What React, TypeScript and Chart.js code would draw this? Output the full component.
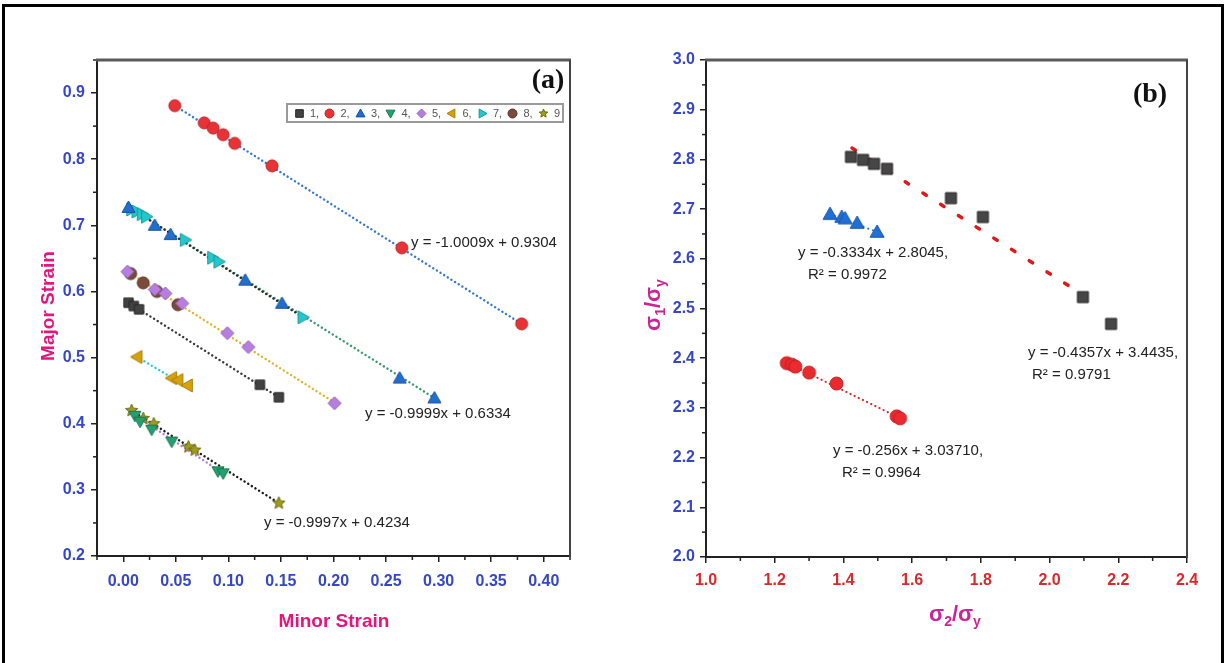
import React, { useEffect, useRef } from 'react';
import { Chart, registerables } from 'chart.js';

Chart.register(...registerables);

// ---------- Panel (a) data ----------
const A_X_TICKS = [0, 0.05, 0.1, 0.15, 0.2, 0.25, 0.3, 0.35, 0.4];
const A_X_TICK_LABELS = ['0.00', '0.05', '0.10', '0.15', '0.20', '0.25', '0.30', '0.35', '0.40'];
const A_Y_TICKS = [0.2, 0.3, 0.4, 0.5, 0.6, 0.7, 0.8, 0.9];
const A_Y_TICK_LABELS = ['0.2', '0.3', '0.4', '0.5', '0.6', '0.7', '0.8', '0.9'];
const A_SERIES_NAMES = ['1,', '2,', '3,', '4,', '5,', '6,', '7,', '8,', '9'];

const s1x = [0.005, 0.010, 0.015, 0.130, 0.148];
const s1y = [0.583, 0.578, 0.573, 0.459, 0.440];
const s2x = [0.049, 0.077, 0.0855, 0.095, 0.106, 0.1415, 0.265, 0.379];
const s2y = [0.881, 0.855, 0.847, 0.837, 0.824, 0.790, 0.666, 0.551];
const s3x = [0.005, 0.030, 0.045, 0.116, 0.151, 0.263, 0.296];
const s3y = [0.727, 0.700, 0.686, 0.617, 0.582, 0.469, 0.439];
const s4x = [0.011, 0.016, 0.027, 0.046, 0.090, 0.095];
const s4y = [0.412, 0.403, 0.391, 0.373, 0.328, 0.325];
const s5x = [0.004, 0.030, 0.040, 0.056, 0.099, 0.119, 0.201];
const s5y = [0.630, 0.603, 0.597, 0.582, 0.537, 0.516, 0.431];
const s6x = [0.013, 0.046, 0.052, 0.061];
const s6y = [0.501, 0.469, 0.466, 0.458];
const s7x = [0.008, 0.013, 0.018, 0.022, 0.059, 0.085, 0.091, 0.171];
const s7y = [0.724, 0.721, 0.717, 0.713, 0.678, 0.651, 0.645, 0.561];
const s8x = [0.007, 0.019, 0.032, 0.052];
const s8y = [0.627, 0.613, 0.600, 0.580];
const s9x = [0.008, 0.019, 0.029, 0.062, 0.068, 0.148];
const s9y = [0.420, 0.408, 0.400, 0.365, 0.360, 0.280];

// fit line end points
const fit2 = [[0.049, 0.881], [0.379, 0.551]];
const fit3 = [[0.005, 0.728], [0.296, 0.439]];
const fit7 = [[0.008, 0.725], [0.171, 0.561]];
const fit5 = [[0.004, 0.630], [0.201, 0.432]];
const fit1 = [[0.005, 0.583], [0.148, 0.440]];
const fit6 = [[0.013, 0.501], [0.061, 0.456]];
const fit9 = [[0.008, 0.420], [0.148, 0.280]];
const fit4 = [[0.011, 0.413], [0.095, 0.325]];

const A_EQUATIONS = ['y = -1.0009x + 0.9304', 'y = -0.9999x + 0.6334', 'y = -0.9997x + 0.4234'];

// ---------- Panel (b) data ----------
const B_X_TICKS = [1.0, 1.2, 1.4, 1.6, 1.8, 2.0, 2.2, 2.4];
const B_X_TICK_LABELS = ['1.0', '1.2', '1.4', '1.6', '1.8', '2.0', '2.2', '2.4'];
const B_Y_TICKS = [2.0, 2.1, 2.2, 2.3, 2.4, 2.5, 2.6, 2.7, 2.8, 2.9, 3.0];
const B_Y_TICK_LABELS = ['2.0', '2.1', '2.2', '2.3', '2.4', '2.5', '2.6', '2.7', '2.8', '2.9', '3.0'];

const bSqX = [1.422, 1.457, 1.489, 1.527, 1.713, 1.806, 2.097, 2.179];
const bSqY = [2.805, 2.799, 2.791, 2.781, 2.722, 2.684, 2.523, 2.469];
const bTriX = [1.361, 1.395, 1.405, 1.440, 1.498];
const bTriY = [2.690, 2.684, 2.681, 2.672, 2.654];
const bCirX = [1.235, 1.250, 1.260, 1.300, 1.380, 1.555, 1.565];
const bCirY = [2.390, 2.387, 2.383, 2.371, 2.349, 2.283, 2.279];

const bFitSq = [[1.425, 2.823], [2.071, 2.539]];
const bFitTri = [[1.361, 2.690], [1.498, 2.654]];
const bFitCir = [[1.240, 2.389], [1.560, 2.281]];

const B_EQ1 = ['y = -0.3334x + 2.8045,', 'R² = 0.9972'];
const B_EQ2 = ['y = -0.4357x + 3.4435,', 'R² = 0.9791'];
const B_EQ3 = ['y = -0.256x + 3.03710,', 'R² = 0.9964'];

// ---------- styling ----------
const BLUE_TICK = '#3546c8';
const RED_TICK = '#d82a2a';
const MAGENTA = '#e4167c';
const SIGMA_COL = '#cf2294';
const SANS = "'Liberation Sans', Arial, sans-serif";
const NARROW = "'Liberation Sans Narrow', 'Liberation Sans', Arial, sans-serif";

type Shape = 'square' | 'circle' | 'up' | 'down' | 'left' | 'right' | 'diamond' | 'star';

function makeMarker(shape: Shape, fill: string, stroke: string, size: number) {
  const pad = 2;
  const s = Math.ceil(size + pad * 2);
  const c = document.createElement('canvas');
  c.width = s;
  c.height = s;
  const g = c.getContext('2d')!;
  const r = size / 2;
  g.translate(s / 2, s / 2);
  g.fillStyle = fill;
  g.strokeStyle = stroke;
  g.lineWidth = 1;
  g.beginPath();
  switch (shape) {
    case 'square':
      g.rect(-r * 0.85, -r * 0.85, r * 1.7, r * 1.7);
      break;
    case 'circle':
      g.arc(0, 0, r, 0, Math.PI * 2);
      break;
    case 'up':
      g.moveTo(0, -r); g.lineTo(r, r * 0.75); g.lineTo(-r, r * 0.75);
      break;
    case 'down':
      g.moveTo(0, r); g.lineTo(r, -r * 0.75); g.lineTo(-r, -r * 0.75);
      break;
    case 'left':
      g.moveTo(-r, 0); g.lineTo(r * 0.75, -r); g.lineTo(r * 0.75, r);
      break;
    case 'right':
      g.moveTo(r, 0); g.lineTo(-r * 0.75, -r); g.lineTo(-r * 0.75, r);
      break;
    case 'diamond':
      g.moveTo(0, -r); g.lineTo(r, 0); g.lineTo(0, r); g.lineTo(-r, 0);
      break;
    case 'star': {
      for (let i = 0; i < 10; i++) {
        const rad = i % 2 === 0 ? r : r * 0.45;
        const a = -Math.PI / 2 + (i * Math.PI) / 5;
        const px = Math.cos(a) * rad;
        const py = Math.sin(a) * rad;
        if (i === 0) g.moveTo(px, py); else g.lineTo(px, py);
      }
      break;
    }
  }
  g.closePath();
  g.fill();
  g.stroke();
  return c;
}

const A_STYLES: { shape: Shape; fill: string; stroke: string; size: number }[] = [
  { shape: 'square', fill: '#424242', stroke: '#2a2a2a', size: 11 },
  { shape: 'circle', fill: '#ea3236', stroke: '#b02428', size: 12 },
  { shape: 'up', fill: '#1f6fd2', stroke: '#1a4f9a', size: 13 },
  { shape: 'down', fill: '#23a070', stroke: '#1a7a52', size: 12 },
  { shape: 'diamond', fill: '#b77ee0', stroke: '#9060b8', size: 13 },
  { shape: 'left', fill: '#d6a20c', stroke: '#a87e08', size: 13 },
  { shape: 'right', fill: '#22c8cc', stroke: '#189a9e', size: 13 },
  { shape: 'circle', fill: '#7c4a38', stroke: '#5a3428', size: 12 },
  { shape: 'star', fill: '#a09c1c', stroke: '#6e6a10', size: 13 },
];

function pts(xs: number[], ys: number[]) {
  return xs.map((x, i) => ({ x, y: ys[i] }));
}
function seg(p: number[][]) {
  return p.map(([x, y]) => ({ x, y }));
}

function dotted(data: any, color: string, order = 10) {
  return {
    type: 'line' as const,
    data,
    borderColor: color,
    borderWidth: 2.4,
    borderDash: [0.1, 4.2],
    borderCapStyle: 'round' as const,
    pointRadius: 0,
    showLine: true,
    fill: false,
    order,
  };
}

function drawSigma(ctx: CanvasRenderingContext2D, cx: number, cy: number, s1: string, s2: string, rotate: boolean) {
  const big = `bold 22px ${SANS}`;
  const small = `bold 14px ${SANS}`;
  const parts: [string, boolean][] = [['σ', false], [s1, true], ['/', false], ['σ', false], [s2, true]];
  ctx.save();
  const widths = parts.map(([t, sub]) => {
    ctx.font = sub ? small : big;
    return ctx.measureText(t).width;
  });
  const total = widths.reduce((a, b) => a + b, 0);
  ctx.translate(cx, cy);
  if (rotate) ctx.rotate(-Math.PI / 2);
  ctx.fillStyle = SIGMA_COL;
  ctx.textBaseline = 'alphabetic';
  ctx.textAlign = 'left';
  let x = -total / 2;
  parts.forEach(([t, sub], i) => {
    ctx.font = sub ? small : big;
    ctx.fillText(t, x, sub ? 11 : 6);
    x += widths[i];
  });
  ctx.restore();
}

function frameAndMinor(chart: any, xMinor: number[], yMinor: number[]) {
  const { ctx, chartArea: ca, scales } = chart;
  ctx.save();
  ctx.strokeStyle = '#222';
  ctx.lineWidth = 1.5;
  xMinor.forEach((v) => {
    const px = scales.x.getPixelForValue(v);
    ctx.beginPath();
    ctx.moveTo(px, ca.bottom);
    ctx.lineTo(px, ca.bottom + 4);
    ctx.stroke();
  });
  yMinor.forEach((v) => {
    const py = scales.y.getPixelForValue(v);
    ctx.beginPath();
    ctx.moveTo(ca.left, py);
    ctx.lineTo(ca.left - 4, py);
    ctx.stroke();
  });
  // top and right frame
  ctx.strokeStyle = '#5a5a5a';
  ctx.lineWidth = 3;
  ctx.beginPath();
  ctx.moveTo(ca.left - 1, ca.top);
  ctx.lineTo(ca.right + 1, ca.top);
  ctx.stroke();
  ctx.lineWidth = 2;
  ctx.strokeStyle = '#444';
  ctx.beginPath();
  ctx.moveTo(ca.right, ca.top);
  ctx.lineTo(ca.right, ca.bottom + 1);
  ctx.stroke();
  ctx.restore();
}

function baseScale(min: number, max: number, ticks: number[], labels: string[], color: string, font: any, pad: number, isX: boolean) {
  return {
    type: 'linear' as const,
    min,
    max,
    afterBuildTicks: (s: any) => {
      s.ticks = ticks.map((v) => ({ value: v }));
    },
    afterFit: (s: any) => {
      if (isX) s.height = 40; else s.width = 40;
    },
    ticks: {
      callback: (_v: any, i: number) => labels[i],
      color,
      font,
      padding: pad,
      autoSkip: false,
      maxRotation: 0,
    },
    grid: {
      display: true,
      drawOnChartArea: false,
      drawTicks: true,
      tickLength: 6,
      color: '#222',
      lineWidth: 1.5,
    },
    border: { display: true, color: '#222', width: 2 },
  };
}

export default function App() {
  const refA = useRef<HTMLCanvasElement>(null);
  const refB = useRef<HTMLCanvasElement>(null);

  useEffect(() => {
    const markers = A_STYLES.map((s) => makeMarker(s.shape, s.fill, s.stroke, s.size));
    const legendMarkers = A_STYLES.map((s) => makeMarker(s.shape, s.fill, s.stroke, 9));
    const seriesX = [s1x, s2x, s3x, s4x, s5x, s6x, s7x, s8x, s9x];
    const seriesY = [s1y, s2y, s3y, s4y, s5y, s6y, s7y, s8y, s9y];

    const pointSets = seriesX.map((xs, i) => ({
      type: 'scatter' as const,
      data: pts(xs, seriesY[i]),
      pointStyle: markers[i],
      pointRadius: 6,
      showLine: false,
      order: 1,
    }));

    const lineSetsA = [
      dotted(seg(fit4), '#b47ee0', 12),
      dotted(seg(fit9), '#1a1a1a', 11),
      dotted(seg(fit2), '#3a78cc'),
      dotted(seg(fit3), '#3a9a6e', 11),
      dotted(seg(fit7), '#2a2a2a', 10),
      dotted(seg(fit5), '#e2b42a'),
      dotted(seg(fit1), '#3a3a3a'),
      dotted(seg(fit6), '#2ccad8'),
    ];

    const tickFontA = { family: SANS, size: 16, weight: 'bold' as const };

    const decorA = {
      id: 'decorA',
      afterDraw(chart: any) {
        const { ctx } = chart;
        frameAndMinor(
          chart,
          [-0.025, 0.025, 0.075, 0.125, 0.175, 0.225, 0.275, 0.325, 0.375, 0.425],
          [0.25, 0.35, 0.45, 0.55, 0.65, 0.75, 0.85, 0.95]
        );
        ctx.save();
        // axis titles
        ctx.fillStyle = MAGENTA;
        ctx.font = `bold 19px ${SANS}`;
        ctx.textAlign = 'center';
        ctx.textBaseline = 'middle';
        ctx.fillText('Minor Strain', 334, 622);
        ctx.save();
        ctx.translate(49, 306);
        ctx.rotate(-Math.PI / 2);
        ctx.fillText('Major Strain', 0, 0);
        ctx.restore();
        // (a)
        ctx.fillStyle = '#111';
        ctx.font = "bold 28px 'Liberation Serif', 'DejaVu Serif', serif";
        ctx.fillText('(a)', 548, 81);
        // equations
        ctx.fillStyle = '#222';
        ctx.font = `15px ${NARROW}`;
        ctx.textAlign = 'left';
        ctx.fillText(A_EQUATIONS[0], 411, 243);
        ctx.fillText(A_EQUATIONS[1], 365, 414);
        ctx.fillText(A_EQUATIONS[2], 264, 523);
        // legend
        ctx.strokeStyle = '#9a9a9a';
        ctx.lineWidth = 2;
        ctx.strokeRect(287, 104, 276, 18);
        ctx.fillStyle = '#555';
        ctx.font = `11px ${SANS}`;
        A_SERIES_NAMES.forEach((name, i) => {
          const mx = 299 + i * 30.5;
          const m = legendMarkers[i];
          ctx.drawImage(m, Math.round(mx - m.width / 2), Math.round(113 - m.height / 2));
          ctx.fillText(name, mx + 11, 113.5);
        });
        ctx.restore();
      },
    };

    const chartA = new Chart(refA.current!, {
      type: 'scatter',
      data: { datasets: [...lineSetsA, ...pointSets] as any },
      options: {
        animation: false,
        responsive: false,
        events: [],
        layout: { padding: { left: 57, right: 42, top: 60, bottom: 67 } },
        plugins: { legend: { display: false }, tooltip: { enabled: false } },
        scales: {
          x: baseScale(-0.025, 0.425, A_X_TICKS, A_X_TICK_LABELS, BLUE_TICK, tickFontA, 10, true),
          y: baseScale(0.2, 0.95, A_Y_TICKS, A_Y_TICK_LABELS, BLUE_TICK, tickFontA, 6, false),
        } as any,
      },
      plugins: [decorA],
    });

    // ---------- panel (b) ----------
    const sqM = makeMarker('square', '#464646', '#2a2a2a', 13);
    const triM = makeMarker('up', '#1f6fd6', '#1a55a8', 14);
    const cirM = makeMarker('circle', '#ea2a2e', '#c01e22', 13);

    const tickFontB = { family: NARROW, size: 16, weight: 'bold' as const };

    const decorB = {
      id: 'decorB',
      afterDraw(chart: any) {
        const { ctx } = chart;
        frameAndMinor(
          chart,
          [1.1, 1.3, 1.5, 1.7, 1.9, 2.1, 2.3],
          [2.05, 2.15, 2.25, 2.35, 2.45, 2.55, 2.65, 2.75, 2.85, 2.95]
        );
        const o = 612;
        ctx.save();
        drawSigma(ctx, 955 - o, 615, '2', 'y', false);
        drawSigma(ctx, 654 - o, 305, '1', 'y', true);
        ctx.fillStyle = '#111';
        ctx.font = "bold 28px 'Liberation Serif', 'DejaVu Serif', serif";
        ctx.textAlign = 'center';
        ctx.textBaseline = 'middle';
        ctx.fillText('(b)', 1150 - o, 95);
        ctx.fillStyle = '#222';
        ctx.font = `15px ${NARROW}`;
        ctx.textAlign = 'left';
        ctx.fillText(B_EQ1[0], 798 - o, 253);
        ctx.fillText(B_EQ1[1], 808 - o, 275);
        ctx.fillText(B_EQ2[0], 1028 - o, 353);
        ctx.fillText(B_EQ2[1], 1032 - o, 375);
        ctx.fillText(B_EQ3[0], 833 - o, 451);
        ctx.fillText(B_EQ3[1], 842 - o, 473);
        ctx.restore();
      },
    };

    const chartB = new Chart(refB.current!, {
      type: 'scatter',
      data: {
        datasets: [
          {
            type: 'line',
            data: seg(bFitSq),
            borderColor: '#e01818',
            borderWidth: 3.5,
            borderDash: [4, 17],
            borderCapStyle: 'round',
            pointRadius: 0,
            fill: false,
            order: 10,
          },
          {
            type: 'line',
            data: seg(bFitCir),
            borderColor: '#e02a2a',
            borderWidth: 2.2,
            borderDash: [0.1, 4.5],
            borderCapStyle: 'round',
            pointRadius: 0,
            fill: false,
            order: 10,
          },
          {
            type: 'line',
            data: seg(bFitTri),
            borderColor: '#1f6fd6',
            borderWidth: 2,
            borderDash: [0.1, 5],
            borderCapStyle: 'round',
            pointRadius: 0,
            fill: false,
            order: 10,
          },
          { type: 'scatter', data: pts(bSqX, bSqY), pointStyle: sqM, pointRadius: 6, order: 1 },
          { type: 'scatter', data: pts(bTriX, bTriY), pointStyle: triM, pointRadius: 6, order: 1 },
          { type: 'scatter', data: pts(bCirX, bCirY), pointStyle: cirM, pointRadius: 6, order: 1 },
        ] as any,
      },
      options: {
        animation: false,
        responsive: false,
        events: [],
        layout: { padding: { left: 54, right: 37, top: 60, bottom: 66 } },
        plugins: { legend: { display: false }, tooltip: { enabled: false } },
        scales: {
          x: baseScale(1.0, 2.4, B_X_TICKS, B_X_TICK_LABELS, RED_TICK, tickFontB, 8, true),
          y: baseScale(2.0, 3.0, B_Y_TICKS, B_Y_TICK_LABELS, BLUE_TICK, tickFontB, 5, false),
        } as any,
      },
      plugins: [decorB],
    });

    return () => {
      chartA.destroy();
      chartB.destroy();
    };
  }, []);

  return (
    <div
      style={{
        position: 'fixed',
        left: 0,
        top: 0,
        width: 1224,
        height: 663,
        background: '#fff',
        overflow: 'hidden',
      }}
    >
      <canvas
        ref={refA}
        width={612}
        height={663}
        style={{ position: 'absolute', left: 0, top: 0, width: 612, height: 663 }}
      />
      <canvas
        ref={refB}
        width={612}
        height={663}
        style={{ position: 'absolute', left: 612, top: 0, width: 612, height: 663 }}
      />
      <div
        style={{
          position: 'absolute',
          left: 2,
          top: 4,
          width: 1216,
          height: 700,
          border: '3px solid #000',
          pointerEvents: 'none',
        }}
      />
    </div>
  );
}
